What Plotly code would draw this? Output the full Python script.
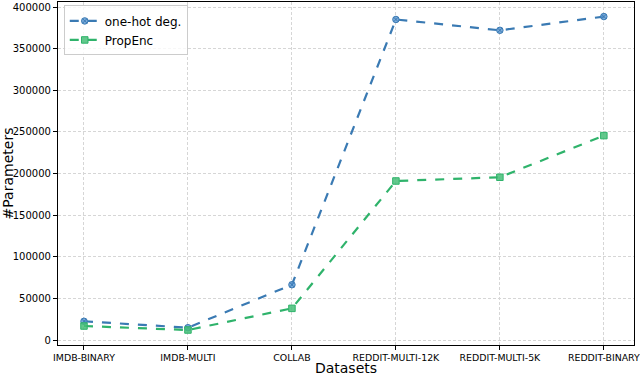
import plotly.graph_objects as go

datasets = ["IMDB-BINARY", "IMDB-MULTI", "COLLAB", "REDDIT-MULTI-12K", "REDDIT-MULTI-5K", "REDDIT-BINARY"]
onehot_params = [22500, 14800, 66400, 385000, 372000, 388500]
propenc_params = [16800, 12000, 38000, 191000, 195500, 245500]

blue = "#3a7ab3"
green = "#2fb36b"

fig = go.Figure()
fig.add_trace(go.Scatter(x=list(range(len(datasets))), y=onehot_params, mode="lines+markers",
                         name="one-hot deg.",
                         line=dict(color=blue, width=2.2, dash="dash"),
                         marker=dict(symbol="circle-x", size=6.5, color="rgba(90,150,210,0.8)",
                                     line=dict(color=blue, width=1))))
fig.add_trace(go.Scatter(x=list(range(len(datasets))), y=propenc_params, mode="lines+markers",
                         name="PropEnc",
                         line=dict(color=green, width=2.2, dash="dash"),
                         marker=dict(symbol="square", size=6.5, color="rgba(70,190,120,0.85)",
                                     line=dict(color=green, width=1))))

axis_common = dict(showline=True, linecolor="black", linewidth=1.2, mirror=True,
                   ticks="outside", ticklen=4, tickcolor="black", automargin=False,
                   ticklabeloverflow="allow",
                   showgrid=True, gridcolor="#d6d6d6", griddash="3px,2px", gridwidth=1,
                   zeroline=False, tickfont=dict(size=9.4, color="black"))

fig.update_xaxes(**axis_common, tickvals=list(range(len(datasets))), ticktext=datasets,
                 range=[-0.25, 5.29],
                 title=dict(text="Datasets", font=dict(size=14, color="black"), standoff=2))
fig.update_yaxes(**axis_common, range=[-6000, 406000], tickvals=list(range(0, 400001, 50000)),
                 tickformat="d",
                 title=dict(text="#Parameters", font=dict(size=14, color="black"), standoff=1))
fig.update_yaxes(tickfont=dict(size=10))

fig.update_layout(width=640, height=376, template=None,
                  plot_bgcolor="white", paper_bgcolor="white",
                  font=dict(family="DejaVu Sans", color="black"),
                  margin=dict(l=58, r=6, t=2, b=31),
                  legend=dict(x=0.01, y=0.99, xanchor="left", yanchor="top",
                              bgcolor="rgba(255,255,255,0.8)", bordercolor="#cccccc", borderwidth=1,
                              font=dict(size=12), itemwidth=30, tracegroupgap=0))

# page body has a default 8px margin; drop it so the figure sits at the window origin
fig.write_html("out.html", config={"displayModeBar": False},
               post_script="document.body.style.margin='0';")
